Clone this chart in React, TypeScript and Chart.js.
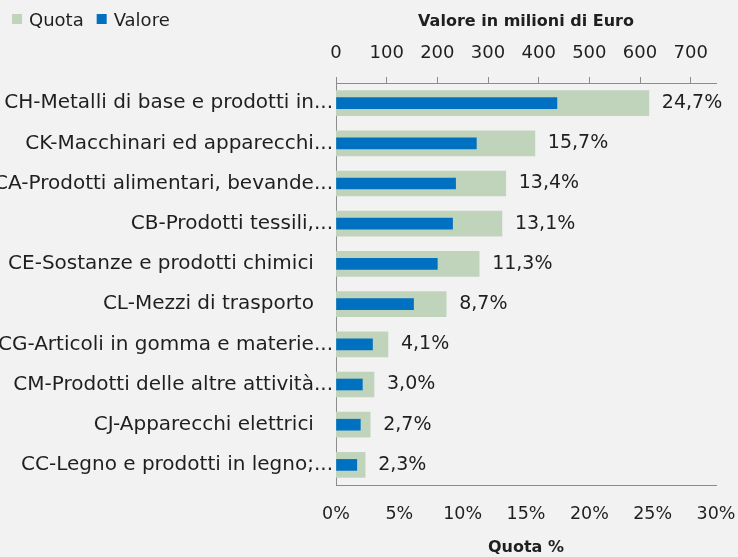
import React, { useEffect, useRef } from "react";
import { Chart, registerables } from "chart.js";

Chart.register(...registerables);

const categories: string[] = [
  "CH-Metalli di base e prodotti in...",
  "CK-Macchinari ed apparecchi...",
  "CA-Prodotti alimentari, bevande...",
  "CB-Prodotti tessili,...",
  "CE-Sostanze e prodotti chimici   ",
  "CL-Mezzi di trasporto   ",
  "CG-Articoli in gomma e materie...",
  "CM-Prodotti delle altre attività...",
  "CJ-Apparecchi elettrici   ",
  "CC-Legno e prodotti in legno;...",
];

const quota: number[] = [24.7, 15.7, 13.4, 13.1, 11.3, 8.7, 4.1, 3.0, 2.7, 2.3];
const valore: number[] = [436, 277, 236, 230, 200, 153, 72, 52, 48, 41];

const quotaTicks: number[] = [0, 5, 10, 15, 20, 25, 30];
const valoreTicks: number[] = [0, 100, 200, 300, 400, 500, 600, 700];

const FONT = "'DejaVu Sans', sans-serif";
const GREEN = "#c0d4bc";
const BLUE = "#0070c0";
const AXIS = "#8c8c8c";
const TEXT = "#1f1f1f";

const dataLabelPlugin = {
  id: "quotaLabels",
  afterDatasetsDraw(chart: any) {
    const ctx = chart.ctx;
    const meta = chart.getDatasetMeta(0);
    ctx.save();
    ctx.font = `19px ${FONT}`;
    ctx.fillStyle = TEXT;
    ctx.textAlign = "left";
    ctx.textBaseline = "middle";
    meta.data.forEach((el: any, i: number) => {
      const v = chart.data.datasets[0].data[i] as number;
      ctx.fillText(v.toFixed(1).replace(".", ",") + "%", el.x + 13, el.y);
    });
    ctx.restore();
  },
};

const legendPlugin = {
  id: "customLegend",
  afterDraw(chart: any) {
    const ctx = chart.ctx;
    ctx.save();
    ctx.font = `18px ${FONT}`;
    ctx.textBaseline = "middle";
    ctx.textAlign = "left";
    let x = 12;
    chart.data.datasets.forEach((ds: any) => {
      ctx.fillStyle = ds.backgroundColor;
      ctx.fillRect(x, 14, 10, 10);
      ctx.fillStyle = TEXT;
      ctx.fillText(ds.label, x + 17, 21);
      x += 17 + ctx.measureText(ds.label).width + 13;
    });
    ctx.restore();
  },
};

export default function App() {
  const canvasRef = useRef<HTMLCanvasElement | null>(null);

  useEffect(() => {
    if (!canvasRef.current) return;
    const chart = new Chart(canvasRef.current, {
      type: "bar",
      data: {
        labels: categories,
        datasets: [
          {
            label: "Quota",
            data: quota,
            backgroundColor: GREEN,
            xAxisID: "xQuota",
            barThickness: 25,
            grouped: false,
            order: 1,
          } as any,
          {
            label: "Valore",
            data: valore,
            backgroundColor: BLUE,
            xAxisID: "xValore",
            barThickness: 11,
            grouped: false,
            order: 0,
          } as any,
        ],
      },
      options: {
        indexAxis: "y",
        animation: false,
        responsive: true,
        maintainAspectRatio: false,
        layout: { padding: { left: 0, right: 22, top: 0, bottom: 0 } },
        plugins: {
          legend: { display: false },
          tooltip: { enabled: false },
        },
        scales: {
          y: {
            type: "category",
            position: "left",
            grid: { display: false, drawTicks: false },
            border: { display: true, color: AXIS, width: 1 },
            ticks: {
              font: { family: FONT, size: 20 },
              color: TEXT,
              padding: 3,
              autoSkip: false,
            },
            afterFit: (s: any) => {
              s.width = 336;
            },
          },
          xValore: {
            type: "linear",
            position: "top",
            min: 0,
            max: 750,
            grid: {
              drawOnChartArea: false,
              drawTicks: true,
              tickLength: 6,
              color: AXIS,
            },
            border: { display: true, color: AXIS, width: 1 },
            ticks: {
              font: { family: FONT, size: 18 },
              color: TEXT,
              padding: 13,
              maxRotation: 0,
            },
            afterBuildTicks: (s: any) => {
              s.ticks = valoreTicks.map((v) => ({ value: v }));
            },
            title: {
              display: true,
              text: "Valore in milioni di Euro",
              font: { family: FONT, size: 16, weight: "bold" },
              color: TEXT,
              padding: { top: 12, bottom: 0 },
            },
            afterFit: (s: any) => {
              s.height = 83;
              s.paddingLeft = 0;
              s.paddingRight = 0;
            },
          },
          xQuota: {
            type: "linear",
            position: "bottom",
            min: 0,
            max: 30,
            grid: { display: false, drawTicks: false },
            border: { display: true, color: AXIS, width: 1 },
            ticks: {
              font: { family: FONT, size: 17.5 },
              color: TEXT,
              padding: 19,
              maxRotation: 0,
              callback: (v: any) => v + "%",
            },
            afterBuildTicks: (s: any) => {
              s.ticks = quotaTicks.map((v) => ({ value: v }));
            },
            title: {
              display: true,
              text: "Quota %",
              font: { family: FONT, size: 16, weight: "bold" },
              color: TEXT,
              padding: { top: 0, bottom: 0 },
            },
            afterFit: (s: any) => {
              s.height = 72;
              s.paddingLeft = 0;
              s.paddingRight = 0;
            },
          },
        },
      } as any,
      plugins: [dataLabelPlugin, legendPlugin],
    });
    return () => chart.destroy();
  }, []);

  return (
    <div
      style={{
        position: "fixed",
        left: 0,
        top: 0,
        width: 738,
        height: 557,
        background: "#f2f2f2",
      }}
    >
      <canvas ref={canvasRef} />
    </div>
  );
}
